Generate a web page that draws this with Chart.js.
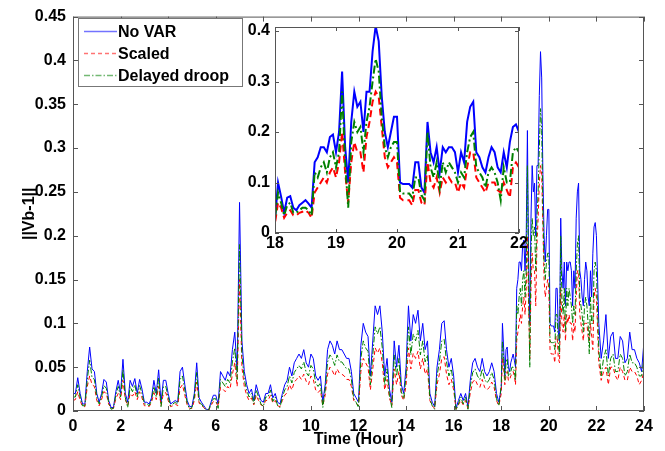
<!DOCTYPE html>
<html>
<head>
<meta charset="utf-8">
<script src="https://cdn.jsdelivr.net/npm/chart.js@4.4.1/dist/chart.umd.min.js"></script>
<style>
  html, body { margin: 0; padding: 0; background: #fff; }
  #wrap { position: relative; width: 665px; height: 451px; }
  #main { position: absolute; left: 0; top: 0; }
  #inset { position: absolute; left: 225px; top: 10px; }
</style>
</head>
<body>
<div id="wrap">
  <canvas id="main" width="665" height="451"></canvas>
  <canvas id="inset" width="305" height="250"></canvas>
</div>
<script>
// ---- data ----
// 0.0 .. 17.9 h, every 0.1 h
const noVarA = [
  0.020, 0.020, 0.038, 0.020, 0.008, 0.008, 0.045, 0.073, 0.048, 0.045,
  0.020, 0.010, 0.020, 0.036, 0.033, 0.012, 0.004, 0.004, 0.022, 0.035,
  0.020, 0.059, 0.020, 0.010, 0.035, 0.028, 0.037, 0.020, 0.036, 0.025,
  0.010, 0.010, 0.008, 0.015, 0.035, 0.020, 0.047, 0.010, 0.035, 0.035,
  0.020, 0.008, 0.010, 0.012, 0.010, 0.045, 0.050, 0.030, 0.012, 0.005,
  0.005, 0.020, 0.055, 0.015, 0.010, 0.006, 0.002, 0.001, 0.010, 0.018,
  0.018, 0.008, 0.045, 0.040, 0.035, 0.045, 0.040, 0.070, 0.090, 0.045,
  0.238, 0.080, 0.045, 0.030, 0.020, 0.025, 0.012, 0.030, 0.020, 0.012,
  0.010, 0.020, 0.020, 0.030, 0.015, 0.020, 0.010, 0.008, 0.020, 0.030,
  0.035, 0.050, 0.040, 0.055, 0.060, 0.065, 0.060, 0.070, 0.055, 0.050,
  0.065, 0.060, 0.040, 0.035, 0.040, 0.010, 0.030, 0.070, 0.080, 0.075,
  0.065, 0.080, 0.070, 0.070, 0.065, 0.060, 0.060, 0.045, 0.020, 0.015,
  0.010, 0.075, 0.100, 0.090, 0.085, 0.040, 0.080, 0.120, 0.110, 0.120,
  0.090, 0.040, 0.060, 0.025, 0.010, 0.080, 0.050, 0.075, 0.030, 0.020,
  0.050, 0.120, 0.080, 0.110, 0.100, 0.115, 0.080, 0.100, 0.070, 0.080,
  0.020, 0.010, 0.005, 0.050, 0.070, 0.100, 0.103, 0.070, 0.050, 0.060,
  0.040, 0.003, 0.012, 0.020, 0.012, 0.020, 0.005, 0.035, 0.055, 0.060,
  0.050, 0.045, 0.060, 0.045, 0.040, 0.045, 0.055, 0.045, 0.020, 0.010
];
const scaledA = [
  0.012, 0.013, 0.022, 0.012, 0.005, 0.005, 0.028, 0.040, 0.030, 0.028,
  0.012, 0.006, 0.013, 0.022, 0.020, 0.008, 0.003, 0.003, 0.014, 0.020,
  0.013, 0.035, 0.013, 0.006, 0.020, 0.017, 0.022, 0.013, 0.022, 0.015,
  0.006, 0.006, 0.005, 0.010, 0.021, 0.013, 0.028, 0.006, 0.020, 0.021,
  0.012, 0.005, 0.006, 0.008, 0.006, 0.026, 0.030, 0.018, 0.007, 0.003,
  0.003, 0.012, 0.033, 0.009, 0.006, 0.004, 0.001, 0.001, 0.006, 0.011,
  0.011, 0.005, 0.027, 0.025, 0.022, 0.028, 0.025, 0.042, 0.055, 0.028,
  0.150, 0.050, 0.028, 0.018, 0.012, 0.015, 0.007, 0.018, 0.012, 0.007,
  0.006, 0.012, 0.012, 0.018, 0.009, 0.012, 0.006, 0.005, 0.012, 0.018,
  0.021, 0.030, 0.024, 0.033, 0.036, 0.040, 0.036, 0.042, 0.034, 0.030,
  0.040, 0.036, 0.024, 0.021, 0.024, 0.006, 0.018, 0.042, 0.050, 0.046,
  0.040, 0.048, 0.043, 0.042, 0.040, 0.036, 0.036, 0.028, 0.012, 0.009,
  0.006, 0.045, 0.060, 0.055, 0.050, 0.024, 0.048, 0.072, 0.066, 0.072,
  0.055, 0.024, 0.036, 0.015, 0.006, 0.048, 0.030, 0.045, 0.018, 0.012,
  0.030, 0.072, 0.048, 0.066, 0.060, 0.068, 0.048, 0.060, 0.042, 0.048,
  0.012, 0.006, 0.003, 0.030, 0.042, 0.060, 0.062, 0.042, 0.030, 0.036,
  0.024, 0.002, 0.007, 0.012, 0.007, 0.012, 0.003, 0.021, 0.033, 0.036,
  0.030, 0.027, 0.036, 0.027, 0.024, 0.027, 0.033, 0.027, 0.012, 0.006
];
const droopA = [
  0.016, 0.016, 0.030, 0.016, 0.006, 0.006, 0.036, 0.058, 0.038, 0.036,
  0.016, 0.008, 0.016, 0.029, 0.026, 0.009, 0.002, 0.003, 0.018, 0.028,
  0.016, 0.047, 0.015, 0.004, 0.028, 0.022, 0.030, 0.016, 0.029, 0.020,
  0.008, 0.008, 0.006, 0.012, 0.028, 0.016, 0.038, 0.005, 0.028, 0.028,
  0.016, 0.006, 0.008, 0.010, 0.008, 0.036, 0.040, 0.024, 0.009, 0.002,
  0.004, 0.016, 0.044, 0.010, 0.008, 0.004, 0.001, 0.001, 0.008, 0.014,
  0.014, 0.003, 0.036, 0.032, 0.028, 0.036, 0.032, 0.056, 0.072, 0.036,
  0.190, 0.064, 0.036, 0.024, 0.016, 0.020, 0.008, 0.024, 0.016, 0.008,
  0.005, 0.016, 0.016, 0.024, 0.011, 0.016, 0.006, 0.004, 0.016, 0.024,
  0.028, 0.040, 0.032, 0.044, 0.048, 0.052, 0.048, 0.056, 0.044, 0.040,
  0.052, 0.048, 0.032, 0.028, 0.032, 0.004, 0.024, 0.056, 0.064, 0.060,
  0.052, 0.064, 0.056, 0.056, 0.052, 0.048, 0.048, 0.036, 0.014, 0.010,
  0.004, 0.060, 0.080, 0.072, 0.068, 0.030, 0.064, 0.096, 0.088, 0.096,
  0.072, 0.030, 0.048, 0.018, 0.004, 0.064, 0.040, 0.060, 0.022, 0.014,
  0.040, 0.096, 0.064, 0.088, 0.080, 0.092, 0.064, 0.080, 0.056, 0.064,
  0.014, 0.006, 0.002, 0.040, 0.056, 0.080, 0.082, 0.056, 0.040, 0.048,
  0.030, 0.001, 0.008, 0.016, 0.008, 0.016, 0.002, 0.028, 0.044, 0.048,
  0.040, 0.036, 0.048, 0.036, 0.032, 0.036, 0.044, 0.036, 0.014, 0.006
];
// 18.00 .. 22.00 h, every 0.05 h (the zoomed window)
const noVarB = [
  0.026, 0.100, 0.072, 0.040, 0.070, 0.073, 0.050, 0.045, 0.055, 0.060,
  0.065, 0.058, 0.050, 0.140, 0.150, 0.170, 0.170, 0.160, 0.190, 0.195,
  0.160, 0.200, 0.320, 0.170, 0.100, 0.220, 0.280, 0.250, 0.260, 0.200,
  0.280, 0.280, 0.360, 0.410, 0.380, 0.270, 0.200, 0.170, 0.200, 0.230,
  0.230, 0.100, 0.097, 0.097, 0.097, 0.090, 0.140, 0.140, 0.090, 0.080,
  0.220, 0.160, 0.140, 0.170, 0.120, 0.170, 0.160, 0.170, 0.170, 0.160,
  0.120, 0.160, 0.140, 0.220, 0.250, 0.260, 0.160, 0.150, 0.130, 0.120,
  0.150, 0.170, 0.160, 0.130, 0.120, 0.160, 0.130, 0.180, 0.210, 0.215,
  0.200
];
const scaledB = [
  0.020, 0.060, 0.050, 0.030, 0.040, 0.045, 0.035, 0.035, 0.040, 0.042,
  0.045, 0.040, 0.030, 0.080, 0.090, 0.100, 0.110, 0.100, 0.120, 0.130,
  0.110, 0.140, 0.200, 0.120, 0.060, 0.140, 0.180, 0.160, 0.160, 0.120,
  0.190, 0.220, 0.260, 0.280, 0.270, 0.210, 0.150, 0.130, 0.140, 0.150,
  0.140, 0.070, 0.065, 0.065, 0.065, 0.055, 0.085, 0.085, 0.060, 0.055,
  0.140, 0.100, 0.090, 0.110, 0.080, 0.110, 0.100, 0.110, 0.100, 0.100,
  0.080, 0.100, 0.090, 0.130, 0.160, 0.160, 0.110, 0.100, 0.090, 0.080,
  0.100, 0.100, 0.100, 0.085, 0.080, 0.100, 0.085, 0.070, 0.130, 0.140,
  0.130
];
const droopB = [
  0.030, 0.080, 0.060, 0.035, 0.055, 0.060, 0.040, 0.040, 0.045, 0.050,
  0.050, 0.045, 0.035, 0.120, 0.110, 0.130, 0.140, 0.120, 0.150, 0.160,
  0.130, 0.160, 0.280, 0.140, 0.050, 0.180, 0.220, 0.200, 0.210, 0.160,
  0.220, 0.250, 0.300, 0.345, 0.320, 0.230, 0.170, 0.150, 0.170, 0.180,
  0.180, 0.080, 0.078, 0.078, 0.078, 0.070, 0.110, 0.110, 0.075, 0.065,
  0.200, 0.130, 0.110, 0.140, 0.090, 0.140, 0.120, 0.140, 0.130, 0.120,
  0.100, 0.120, 0.110, 0.160, 0.190, 0.200, 0.130, 0.120, 0.110, 0.090,
  0.120, 0.130, 0.120, 0.100, 0.065, 0.130, 0.100, 0.100, 0.160, 0.170,
  0.160
];
// 22.1 .. 24.0 h, every 0.1 h
const noVarC = [
  0.100, 0.060, 0.080, 0.110, 0.060, 0.085, 0.090, 0.060, 0.060, 0.085,
  0.080, 0.055, 0.060, 0.090, 0.070, 0.070, 0.060, 0.055, 0.045, 0.080
];
const scaledC = [
  0.055, 0.035, 0.045, 0.050, 0.030, 0.050, 0.050, 0.040, 0.035, 0.050,
  0.045, 0.035, 0.035, 0.050, 0.045, 0.045, 0.040, 0.030, 0.035, 0.045
];
const droopC = [
  0.070, 0.040, 0.060, 0.070, 0.040, 0.060, 0.065, 0.045, 0.045, 0.065,
  0.060, 0.040, 0.045, 0.065, 0.055, 0.055, 0.050, 0.040, 0.040, 0.060
];

const seriesNames = ['No VAR', 'Scaled', 'Delayed droop'];
const mainXTicks = [0, 2, 4, 6, 8, 10, 12, 14, 16, 18, 20, 22, 24];
const mainYTicks = [0, 0.05, 0.1, 0.15, 0.2, 0.25, 0.3, 0.35, 0.4, 0.45];
const insetXTicks = [18, 19, 20, 21, 22];
const insetYTicks = [0, 0.1, 0.2, 0.3, 0.4];

// time axis for the three segments
const hours = [];
noVarA.forEach((v, i) => hours.push(i / 10));
noVarB.forEach((v, i) => hours.push(Math.round((18 + i * 0.05) * 100) / 100));
noVarC.forEach((v, i) => hours.push(Math.round((22.1 + i * 0.1) * 100) / 100));

function toPoints(a, b, c) {
  return a.concat(b, c).map((y, i) => ({ x: hours[i], y: y }));
}
const noVarPts = toPoints(noVarA, noVarB, noVarC);
const scaledPts = toPoints(scaledA, scaledB, scaledC);
const droopPts = toPoints(droopA, droopB, droopC);

const colors = { blue: '#0000ff', red: '#ff0000', green: '#008000', box: '#555555' };
const seriesColors = [colors.blue, colors.red, colors.green];
const legendDash = [[], [4, 3], [6, 2, 1.5, 2]];
const fontFamily = '"Liberation Sans", Arial, Helvetica, sans-serif';
const tickFont = { family: fontFamily, size: 16, weight: 'bold' };
Chart.defaults.font.family = fontFamily;

// box around the plot area with inward tick marks on all four sides
const boxTicks = {
  id: 'boxTicks',
  afterDatasetsDraw(chart, args, opts) {
    const { ctx, chartArea: a, scales: { x, y } } = chart;
    ctx.save();
    ctx.strokeStyle = opts.color;
    ctx.lineWidth = 1;
    ctx.setLineDash([]);
    ctx.strokeRect(a.left + 0.5, a.top + 0.5, a.right - a.left - 1, a.bottom - a.top - 1);
    ctx.beginPath();
    x.ticks.forEach(t => {
      const px = Math.round(x.getPixelForValue(t.value)) + 0.5;
      ctx.moveTo(px, a.bottom); ctx.lineTo(px, a.bottom - opts.len);
      ctx.moveTo(px, a.top); ctx.lineTo(px, a.top + opts.len);
    });
    y.ticks.forEach(t => {
      const py = Math.round(y.getPixelForValue(t.value)) + 0.5;
      ctx.moveTo(a.left, py); ctx.lineTo(a.left + opts.len, py);
      ctx.moveTo(a.right, py); ctx.lineTo(a.right - opts.len, py);
    });
    ctx.stroke();
    ctx.restore();
  }
};

// white plot area for the inset so it hides the main lines behind it
const areaFill = {
  id: 'areaFill',
  beforeDraw(chart) {
    const { ctx, chartArea: a } = chart;
    ctx.save();
    ctx.fillStyle = '#ffffff';
    ctx.fillRect(a.left, a.top, a.right - a.left, a.bottom - a.top);
    ctx.restore();
  }
};

// MATLAB style legend box in the upper left corner
const boxLegend = {
  id: 'boxLegend',
  afterDraw(chart, args, opts) {
    const { ctx } = chart;
    ctx.save();
    ctx.fillStyle = '#ffffff';
    ctx.fillRect(opts.x, opts.y, opts.w, opts.h);
    ctx.strokeStyle = '#777777';
    ctx.lineWidth = 1;
    ctx.strokeRect(opts.x + 0.5, opts.y + 0.5, opts.w, opts.h);
    ctx.font = 'bold 16px ' + fontFamily;
    ctx.textBaseline = 'middle';
    seriesNames.forEach((name, i) => {
      const yy = opts.y + 13.5 + i * 22;
      ctx.save();
      ctx.globalAlpha = 0.55;
      ctx.strokeStyle = seriesColors[i];
      ctx.lineWidth = 1.5;
      ctx.setLineDash(legendDash[i]);
      ctx.beginPath();
      ctx.moveTo(opts.x + 6, yy);
      ctx.lineTo(opts.x + 39, yy);
      ctx.stroke();
      ctx.restore();
      ctx.fillStyle = '#000000';
      ctx.fillText(name, opts.x + 40, yy + 1);
    });
    ctx.restore();
  }
};

function makeDatasets(width, redDash, greenDash) {
  return [
    { label: seriesNames[0], data: noVarPts, borderColor: colors.blue, borderWidth: width, order: 2 },
    { label: seriesNames[1], data: scaledPts, borderColor: colors.red, borderWidth: width, borderDash: redDash, order: 1 },
    { label: seriesNames[2], data: droopPts, borderColor: colors.green, borderWidth: width, borderDash: greenDash, order: 0 }
  ].map(d => Object.assign(d, { pointRadius: 0, tension: 0, fill: false }));
}

function fmt(v) { return String(parseFloat(Number(v).toFixed(2))); }

new Chart(document.getElementById('main'), {
  type: 'line',
  data: { datasets: makeDatasets(1, [4, 3], [6, 2, 1.5, 2]) },
  options: {
    responsive: false,
    animation: false,
    devicePixelRatio: 1,
    layout: { padding: { top: 15, right: 21, left: 0, bottom: 0 } },
    plugins: {
      legend: { display: false },
      tooltip: { enabled: false },
      boxTicks: { color: colors.box, len: 5 },
      boxLegend: { x: 78, y: 18, w: 164, h: 68 }
    },
    scales: {
      x: {
        type: 'linear', min: 0, max: 24,
        afterBuildTicks: s => { s.ticks = mainXTicks.map(v => ({ value: v })); },
        afterFit: s => { s.height = 40; },
        grid: { display: false, drawTicks: false },
        border: { display: false },
        ticks: { font: tickFont, color: '#000', padding: 6, maxRotation: 0, callback: v => fmt(v) },
        title: { display: true, text: 'Time (Hour)', font: tickFont, color: '#000', padding: { top: 0, bottom: 2 } }
      },
      y: {
        type: 'linear', min: 0, max: 0.45,
        afterBuildTicks: s => { s.ticks = mainYTicks.map(v => ({ value: v })); },
        afterFit: s => { s.width = 73; },
        grid: { display: false, drawTicks: false },
        border: { display: false },
        ticks: { font: tickFont, color: '#000', padding: 7, callback: v => fmt(v) },
        title: { display: true, text: '||Vb-1||', font: tickFont, color: '#000', padding: { top: 20, bottom: 0 } }
      }
    }
  },
  plugins: [boxTicks, boxLegend]
});

new Chart(document.getElementById('inset'), {
  type: 'line',
  data: { datasets: makeDatasets(2, [7, 4], [8, 3, 2, 3]) },
  options: {
    responsive: false,
    animation: false,
    devicePixelRatio: 1,
    layout: { padding: { top: 17, right: 11, left: 0, bottom: 0 } },
    plugins: {
      legend: { display: false },
      tooltip: { enabled: false },
      boxTicks: { color: colors.box, len: 4 }
    },
    scales: {
      x: {
        type: 'linear', min: 18, max: 22,
        afterBuildTicks: s => { s.ticks = insetXTicks.map(v => ({ value: v })); },
        afterFit: s => { s.height = 27; },
        grid: { display: false, drawTicks: false },
        border: { display: false },
        ticks: { font: tickFont, color: '#000', padding: 1, maxRotation: 0, callback: v => fmt(v) }
      },
      y: {
        type: 'linear', min: 0, max: 0.408,
        afterBuildTicks: s => { s.ticks = insetYTicks.map(v => ({ value: v })); },
        afterFit: s => { s.width = 50; },
        grid: { display: false, drawTicks: false },
        border: { display: false },
        ticks: { font: tickFont, color: '#000', padding: 5, callback: v => fmt(v) }
      }
    }
  },
  plugins: [areaFill, boxTicks]
});
</script>
</body>
</html>
